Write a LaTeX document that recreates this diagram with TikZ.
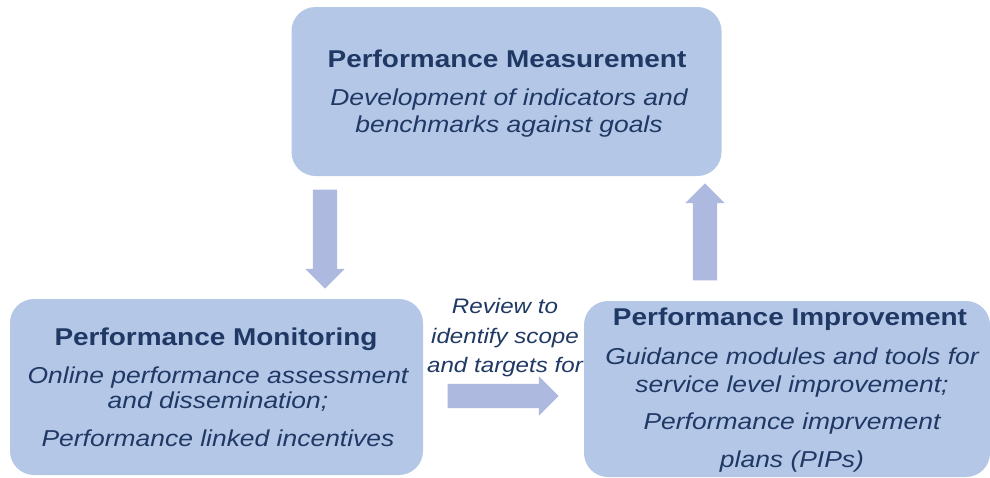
\documentclass[tikz,border=0pt]{standalone}
\usepackage{fontspec}
\setmainfont{Liberation Sans}[FakeStretch=1.15]
\usetikzlibrary{shapes.arrows}

\definecolor{boxfill}{HTML}{B4C7E7}
\definecolor{arrowfill}{HTML}{ADB9DE}
\definecolor{navy}{HTML}{1F3864}

\tikzset{
  panel/.style={draw=none, fill=boxfill, rounded corners=24pt, inner sep=0pt},
  head/.style={anchor=base, inner sep=0pt, text=navy, font=\fontsize{24.3}{29}\selectfont\bfseries},
  body/.style={anchor=base, inner sep=0pt, text=navy, font=\fontsize{23}{27}\selectfont\itshape},
  note/.style={anchor=base, inner sep=0pt, text=navy, font=\fontsize{21}{25}\selectfont\itshape},
  blockarrow/.style={single arrow, fill=arrowfill, draw=none, inner xsep=0pt,
    inner ysep=12pt, single arrow head extend=7.5pt, single arrow tip angle=90,
    anchor=center}
}

\begin{document}
\begin{tikzpicture}[x=1pt, y=-1pt]
  \useasboundingbox (0,0) rectangle (990,477);

  % the three stages
  \node[panel, minimum width=430pt, minimum height=169pt] (meas) at (506.5,91.5) {};
  \node[panel, minimum width=413pt, minimum height=176pt] (mon) at (216.5,387) {};
  \node[panel, minimum width=406pt, minimum height=176pt] (imp) at (787,389) {};

  % Performance Measurement
  \node[head] (measT) at (507,67) {Performance Measurement};
  \node[body] (measA) at (509,105) {Development of indicators and};
  \node[body] (measB) at (509,132) {benchmarks against goals};

  % Performance Monitoring
  \node[head] (monT) at (216,345) {Performance Monitoring};
  \node[body] (monA) at (218,383) {Online performance assessment};
  \node[body] (monB) at (218,408) {and dissemination;};
  \node[body] (monC) at (218,446) {Performance linked incentives};

  % Performance Improvement
  \node[head] (impT) at (790,325) {Performance Improvement};
  \node[body] (impA) at (792,364) {Guidance modules and tools for};
  \node[body] (impB) at (792,392) {service level improvement;};
  \node[body] (impC) at (792,429) {Performance imprvement};
  \node[body] (impD) at (792,467) {plans (PIPs)};

  % label over the horizontal arrow
  \node[note] (revA) at (505,313) {Review to};
  \node[note] (revB) at (505,343) {identify scope};
  \node[note] (revC) at (505,372) {and targets for};

  % block arrows of the cycle
  \node[blockarrow, minimum height=99pt, rotate=-90] (down) at (325,233) {};
  \node[blockarrow, minimum height=97pt, rotate=90] (up) at (705,238) {};
  \node[blockarrow, minimum height=111pt] (right) at (497,396) {};
\end{tikzpicture}
\end{document}
